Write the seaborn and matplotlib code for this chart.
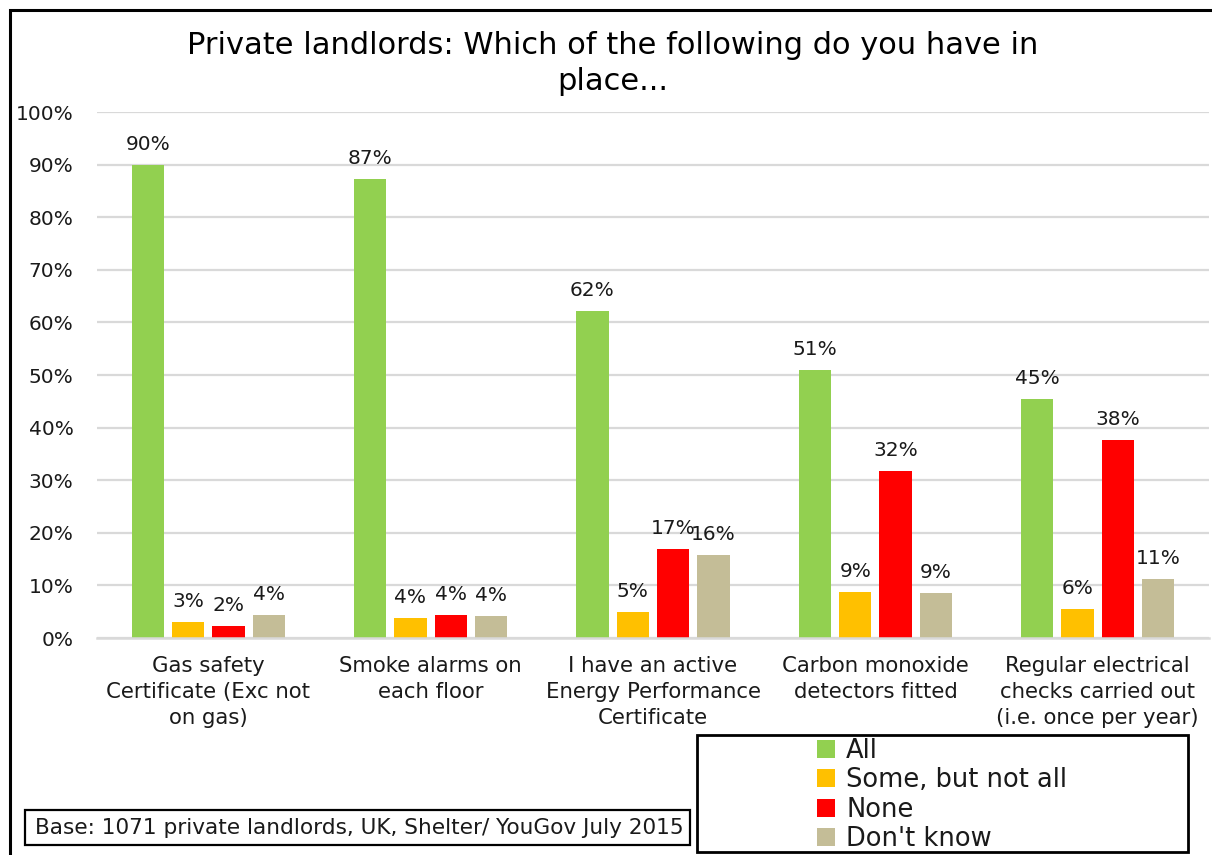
import matplotlib
matplotlib.use("Agg")
import matplotlib.pyplot as plt
from matplotlib.patches import Rectangle, Patch
import seaborn as sns
import pandas as pd

categories = [
    "Gas safety\nCertificate (Exc not\non gas)",
    "Smoke alarms on\neach floor",
    "I have an active\nEnergy Performance\nCertificate",
    "Carbon monoxide\ndetectors fitted",
    "Regular electrical\nchecks carried out\n(i.e. once per year)",
]
series = ["All", "Some, but not all", "None", "Don't know"]
all_vals = [89.9, 87.3, 62.2, 51.0, 45.4]
some_vals = [3.0, 3.8, 5.0, 8.8, 5.5]
none_vals = [2.2, 4.4, 16.9, 31.7, 37.6]
dk_vals = [4.4, 4.1, 15.7, 8.6, 11.2]
colors = ["#92D050", "#FFC000", "#FF0000", "#C4BD97"]
yticks = [0, 10, 20, 30, 40, 50, 60, 70, 80, 90, 100]
title_lines = ["Private landlords: Which of the following do you have in", "place..."]
note = "Base: 1071 private landlords, UK, Shelter/ YouGov July 2015"

rows = []
for s, vals in zip(series, [all_vals, some_vals, none_vals, dk_vals]):
    for c, v in zip(categories, vals):
        rows.append({"category": c, "series": s, "value": v})
df = pd.DataFrame(rows)

sns.set_theme(style="white")
plt.rcParams["font.family"] = ["DejaVu Sans"]
txt = "#1a1a1a"

fig = plt.figure(figsize=(12.12, 8.55), dpi=100)
ax = fig.add_axes([97 / 1212, 1 - 638 / 855, (1209 - 97) / 1212, (638 - 112) / 855])

sns.barplot(data=df, x="category", y="value", hue="series", order=categories,
            hue_order=series, palette=colors, width=0.726, gap=0.2,
            saturation=1, ax=ax, legend=False, edgecolor="none")

for cont, vals in zip(ax.containers, [all_vals, some_vals, none_vals, dk_vals]):
    ax.bar_label(cont, labels=[f"{round(v):.0f}%" for v in vals], padding=8,
                 fontsize=14.5, color=txt)

ax.set_ylim(0, 100)
ax.set_yticks(yticks)
ax.set_yticklabels([f"{t}%" for t in yticks], fontsize=14.5, color=txt)
ax.set_xlim(-0.5, len(categories) - 0.5)
ax.set_xlabel("")
ax.set_ylabel("")
ax.tick_params(axis="y", length=0, pad=17)
ax.tick_params(axis="x", length=0, pad=13)
for lab in ax.get_xticklabels():
    lab.set_fontsize(15.3)
    lab.set_color(txt)
    lab.set_linespacing(1.37)
ax.yaxis.grid(True, color="#d9d9d9", linewidth=1.6)
ax.set_axisbelow(True)
for sp in ["top", "right", "left"]:
    ax.spines[sp].set_visible(False)
ax.spines["bottom"].set_color("#d9d9d9")
ax.spines["bottom"].set_linewidth(1.8)

# title, two centred lines
fig.text(613 / 1212, 1 - 46 / 855, title_lines[0], ha="center", va="center",
         fontsize=22, color="black")
fig.text(613 / 1212, 1 - 82 / 855, title_lines[1], ha="center", va="center",
         fontsize=22, color="black")

# outer border (top and left visible)
fig.patches.append(Rectangle((10 / 1212, -0.1), 1.2, 1.1 - 10 / 855,
                             transform=fig.transFigure, fill=False,
                             edgecolor="black", linewidth=2.2))

# legend box
fig.patches.append(Rectangle((697 / 1212, 1 - 852 / 855), (1188 - 697) / 1212,
                             (852 - 735) / 855, transform=fig.transFigure,
                             fill=False, edgecolor="black", linewidth=2))
handles = [Patch(facecolor=c, edgecolor="none", label=s) for c, s in zip(colors, series)]
fig.legend(handles=handles, loc="center", bbox_to_anchor=(942 / 1212, 1 - 795 / 855),
           frameon=False, fontsize=18.5, handlelength=0.7, handleheight=0.7,
           handletextpad=0.45, labelspacing=0.12, borderpad=0, labelcolor=txt)

# base note box
fig.patches.append(Rectangle((25 / 1212, 1 - 845 / 855), (690 - 25) / 1212,
                             (845 - 810) / 855, transform=fig.transFigure,
                             fill=False, edgecolor="black", linewidth=1.6))
fig.text(35 / 1212, 1 - 828 / 855, note, ha="left", va="center", fontsize=15.6,
         color=txt)

fig.savefig("out.png", dpi=100, facecolor="white")
